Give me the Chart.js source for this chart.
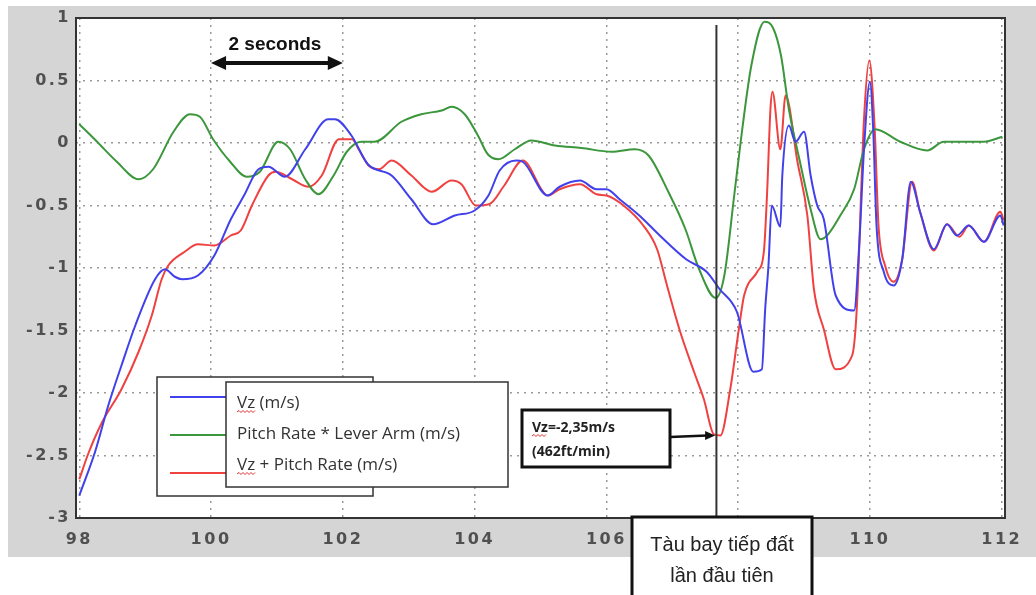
<!DOCTYPE html>
<html>
<head>
<meta charset="utf-8">
<script src="https://cdn.jsdelivr.net/npm/chart.js@4"></script>
<style>
  html, body { margin: 0; background: #fff; }
</style>
</head>
<body>
<canvas id="chart1" width="1036" height="595"></canvas>
<script>
// -- THE DATA --

const vz_x = [
  98.0,98.24,98.44,98.64,98.85,99.15,99.3,99.45,99.56,99.8,100.05,100.3,100.5,100.72,100.87,
  101.12,101.43,101.78,101.88,102.13,102.38,102.74,103.04,103.37,103.7,104.0,104.21,104.38,
  104.63,104.73,105.11,105.29,105.6,105.85,106.0,106.2,106.5,106.81,107.21,107.52,107.72,
  107.98,108.23,108.36,108.41,108.46,108.51,108.64,108.67,108.77,108.87,109.0,109.1,109.2,
  109.3,109.48,109.76,109.84,109.91,110.0,110.05,110.1,110.21,110.36,110.49,110.62,110.76,
  110.97,111.17,111.32,111.5,111.73,111.98,112.03
];
const vz_y = [
  -2.82,-2.47,-2.1,-1.78,-1.46,-1.09,-1.01,-1.07,-1.09,-1.06,-0.9,-0.61,-0.42,-0.21,-0.19,
  -0.27,-0.05,0.19,0.19,0.06,-0.17,-0.26,-0.45,-0.65,-0.58,-0.54,-0.42,-0.22,
  -0.14,-0.15,-0.42,-0.35,-0.3,-0.37,-0.37,-0.45,-0.58,-0.74,-0.93,-1.03,-1.17,
  -1.35,-1.83,-1.81,-1.33,-0.98,-0.5,-0.67,-0.26,0.14,0.01,0.09,-0.26,-0.5,
  -0.61,-1.22,-1.34,-0.79,-0.05,0.49,0.1,-0.66,-1.03,-1.14,-0.93,-0.31,-0.55,
  -0.85,-0.65,-0.74,-0.66,-0.79,-0.58,-0.66
];

const pitch_x = [
  98.0,98.27,98.57,98.9,99.12,99.43,99.68,99.83,100.03,100.29,100.54,100.74,101.02,101.2,
  101.43,101.63,101.86,102.06,102.28,102.48,102.89,103.19,103.5,103.65,103.85,104.05,104.2,
  104.36,104.61,104.86,105.22,105.62,106.08,106.43,106.64,106.94,107.2,107.4,107.66,107.79,
  107.94,108.05,108.2,108.4,108.53,108.65,108.77,108.95,109.1,109.25,109.35,109.55,109.76,
  109.91,110.08,110.46,110.87,111.12,111.73,112.01
];
const pitch_y = [
  0.15,0.01,-0.15,-0.29,-0.21,0.09,0.23,0.21,0.03,-0.15,-0.27,-0.23,0.01,-0.05,
  -0.29,-0.41,-0.26,-0.07,0.01,0.01,0.17,0.23,0.26,0.29,0.23,0.06,-0.09,
  -0.13,-0.05,0.02,-0.02,-0.04,-0.07,-0.05,-0.1,-0.39,-0.69,-1.0,-1.24,-1.06,
  -0.42,0.06,0.62,0.97,0.92,0.7,0.27,-0.18,-0.53,-0.77,-0.74,-0.58,-0.37,
  -0.05,0.11,0.01,-0.06,0.01,0.01,0.05
];

const sum_x = [
  98.0,98.14,98.34,98.64,98.9,99.1,99.25,99.35,99.6,99.8,100.05,100.3,100.45,100.62,100.87,
  100.98,101.23,101.48,101.68,101.94,102.14,102.24,102.39,102.55,102.74,103.04,103.35,103.65,
  103.8,104.02,104.22,104.45,104.73,105.11,105.29,105.6,105.85,106.0,106.26,106.56,106.77,
  106.92,107.12,107.33,107.48,107.63,107.73,107.88,108.01,108.09,108.29,108.39,108.44,108.49,
  108.52,108.64,108.72,108.9,109.05,109.15,109.3,109.48,109.73,109.8,109.91,109.99,110.07,
  110.13,110.23,110.36,110.49,110.64,110.76,110.97,111.17,111.36,111.5,111.73,111.98,112.03
];
const sum_y = [
  -2.69,-2.48,-2.24,-1.97,-1.67,-1.38,-1.09,-0.98,-0.87,-0.81,-0.82,-0.74,-0.7,-0.5,-0.26,
  -0.23,-0.29,-0.35,-0.26,0.03,0.03,-0.05,-0.18,-0.21,-0.14,-0.26,-0.39,-0.3,
  -0.33,-0.5,-0.49,-0.34,-0.14,-0.42,-0.37,-0.33,-0.41,-0.42,-0.5,-0.66,-0.85,
  -1.14,-1.51,-1.83,-2.05,-2.33,-2.34,-1.97,-1.49,-1.22,-1.03,-0.87,-0.39,0.27,
  0.41,-0.05,0.38,-0.15,-0.58,-1.17,-1.49,-1.81,-1.7,-1.33,0.19,0.66,0.14,
  -0.66,-0.98,-1.11,-0.93,-0.31,-0.55,-0.86,-0.65,-0.75,-0.66,-0.79,-0.55,-0.62
];

const legend_labels = ["Vz (m/s)", "Pitch Rate * Lever Arm (m/s)", "Vz + Pitch Rate (m/s)"];
const span_x = [100, 102];          // "2 seconds" arrow
const touchdown_x = 107.67;         // first touchdown line
const min_point = [107.65, -2.34];  // annotated minimum
const note_lines = ["Vz=-2,35m/s", "(462ft/min)"];
const box_lines = ["Tàu bay tiếp đất", "lần đầu tiên"];

const colors = ['rgb(65,65,235)', 'rgb(60,150,60)', 'rgb(240,65,65)'];

// -- THE DATA OBJ --

const pts = (xs, ys) => xs.map((x, i) => ({ x: x, y: ys[i] }));

const chart1_data_obj = {
  datasets: [
    { label: legend_labels[0], data: pts(vz_x, vz_y), borderColor: colors[0] },
    { label: legend_labels[1], data: pts(pitch_x, pitch_y), borderColor: colors[1] },
    { label: legend_labels[2], data: pts(sum_x, sum_y), borderColor: colors[2] }
  ]
};

// -- HELPERS --

function squiggle(ctx, x0, x1, y) {
  ctx.save();
  ctx.strokeStyle = '#e03030';
  ctx.lineWidth = 1;
  ctx.beginPath();
  let up = true;
  ctx.moveTo(x0, y);
  for (let x = x0 + 2; x <= x1; x += 2) {
    ctx.lineTo(x, up ? y - 1.5 : y + 0.5);
    up = !up;
  }
  ctx.stroke();
  ctx.restore();
}

function head(ctx, x, y, dir, len, half) {
  ctx.beginPath();
  ctx.moveTo(x, y);
  ctx.lineTo(x - dir * len, y - half);
  ctx.lineTo(x - dir * len, y + half);
  ctx.closePath();
  ctx.fill();
}

// -- THE PLUGIN --

const overlay = {
  id: 'overlay',
  beforeDraw(chart) {
    const { ctx, chartArea: a } = chart;
    ctx.save();
    ctx.fillStyle = '#fff';
    ctx.fillRect(0, 0, chart.width, chart.height);
    ctx.fillStyle = '#d5d5d5';
    ctx.fillRect(8, 6, chart.width - 8, 551);
    ctx.fillStyle = '#fff';
    ctx.fillRect(a.left, a.top, a.right - a.left, a.bottom - a.top);
    ctx.restore();
    ctx.letterSpacing = '2.5px';
  },
  beforeDatasetsDraw(chart) {
    chart.ctx.letterSpacing = '0px';
  },
  afterDraw(chart) {
    const { ctx, chartArea: a } = chart;
    const xs = chart.scales.x, ys = chart.scales.y;
    ctx.save();
    ctx.letterSpacing = '0px';

    // frame
    ctx.strokeStyle = '#333';
    ctx.lineWidth = 2;
    ctx.strokeRect(a.left, a.top, a.right - a.left, a.bottom - a.top);

    // 2 seconds
    const sx0 = xs.getPixelForValue(span_x[0]), sx1 = xs.getPixelForValue(span_x[1]);
    const sy = ys.getPixelForValue(0.64);
    ctx.fillStyle = '#111';
    ctx.strokeStyle = '#111';
    ctx.lineWidth = 4;
    ctx.beginPath();
    ctx.moveTo(sx0 + 10, sy);
    ctx.lineTo(sx1 - 10, sy);
    ctx.stroke();
    head(ctx, sx0, sy, -1, 15, 7);
    head(ctx, sx1, sy, 1, 15, 7);
    ctx.font = 'bold 19px "Liberation Sans", Arial, sans-serif';
    ctx.textAlign = 'center';
    ctx.textBaseline = 'middle';
    ctx.fillText('2 seconds', (sx0 + sx1) / 2 - 2, 45);

    // touchdown line
    const tx = xs.getPixelForValue(touchdown_x);
    ctx.strokeStyle = '#333';
    ctx.lineWidth = 2;
    ctx.beginPath();
    ctx.moveTo(tx, a.top + 7);
    ctx.lineTo(tx, 518);
    ctx.stroke();

    // legend
    ctx.fillStyle = '#fff';
    ctx.strokeStyle = '#333';
    ctx.lineWidth = 1.5;
    ctx.fillRect(157, 377, 216, 119);
    ctx.strokeRect(157, 377, 216, 119);
    const ly = [397, 435, 473];
    ctx.lineWidth = 2;
    ly.forEach((yy, i) => {
      ctx.strokeStyle = colors[i];
      ctx.beginPath();
      ctx.moveTo(170, yy);
      ctx.lineTo(226, yy);
      ctx.stroke();
    });
    ctx.fillStyle = '#fff';
    ctx.strokeStyle = '#333';
    ctx.lineWidth = 1.5;
    ctx.fillRect(226, 382, 282, 105);
    ctx.strokeRect(226, 382, 282, 105);
    ctx.font = '17px "Open Sans", sans-serif';
    ctx.textAlign = 'left';
    ctx.fillStyle = '#333';
    const ty = [403, 434, 465];
    legend_labels.forEach((t, i) => ctx.fillText(t, 237, ty[i]));
    const vzw = ctx.measureText('Vz').width;
    squiggle(ctx, 237, 237 + vzw, 412);
    squiggle(ctx, 237, 237 + vzw, 474);

    // annotation of the minimum
    ctx.fillStyle = '#fff';
    ctx.strokeStyle = '#111';
    ctx.lineWidth = 3;
    ctx.fillRect(522, 410, 148, 57);
    ctx.strokeRect(522, 410, 148, 57);
    ctx.fillStyle = '#222';
    ctx.font = 'bold 14px "Open Sans", sans-serif';
    ctx.fillText(note_lines[0], 532, 428);
    ctx.fillText(note_lines[1], 532, 452);
    squiggle(ctx, 532, 532 + ctx.measureText('Vz').width, 436);
    const mx = xs.getPixelForValue(min_point[0]), my = ys.getPixelForValue(min_point[1]);
    ctx.strokeStyle = '#111';
    ctx.lineWidth = 2.5;
    ctx.beginPath();
    ctx.moveTo(670, 437);
    ctx.lineTo(mx - 8, my);
    ctx.stroke();
    ctx.fillStyle = '#111';
    head(ctx, mx, my, 1, 10, 4.5);

    // touchdown box
    ctx.fillStyle = '#fff';
    ctx.strokeStyle = '#111';
    ctx.lineWidth = 3;
    ctx.fillRect(632, 517, 180, 90);
    ctx.strokeRect(632, 517, 180, 90);
    ctx.fillStyle = '#222';
    ctx.font = '20px "Liberation Sans", Arial, sans-serif';
    ctx.textAlign = 'center';
    ctx.fillText(box_lines[0], 722, 545);
    ctx.fillText(box_lines[1], 722, 576);

    ctx.restore();
  }
};

// -- THE CHART --

const tick_font = { family: '"DejaVu Sans", sans-serif', size: 16, weight: 'bold' };

const chart1_chart_obj = {
  type: 'line',
  data: chart1_data_obj,
  plugins: [overlay],
  options: {
    responsive: false,
    animation: false,
    layout: { padding: { left: 0, right: 31, top: 18, bottom: 0 } },
    plugins: { legend: { display: false }, tooltip: { enabled: false } },
    elements: {
      point: { radius: 0 },
      line: { borderWidth: 2, cubicInterpolationMode: 'monotone', fill: false }
    },
    scales: {
      x: {
        type: 'linear',
        min: 97.95,
        max: 112.05,
        afterFit(s) { s.height = 77; s.paddingLeft = 0; s.paddingRight = 0; },
        ticks: { stepSize: 2, includeBounds: false, font: tick_font, color: '#505050', padding: 12, maxRotation: 0, autoSkip: false },
        grid: { color: '#999', lineWidth: 1.5, drawTicks: false },
        border: { display: false, dash: [2, 5] }
      },
      y: {
        min: -3,
        max: 1,
        afterFit(s) { s.width = 76; s.paddingTop = 0; s.paddingBottom = 0; },
        ticks: { stepSize: 0.5, font: tick_font, color: '#505050', padding: 5, callback: (v) => String(v) },
        grid: { color: '#999', lineWidth: 1.5, drawTicks: false },
        border: { display: false, dash: [2, 5] }
      }
    }
  }
};

new Chart('chart1', chart1_chart_obj);
</script>
</body>
</html>
